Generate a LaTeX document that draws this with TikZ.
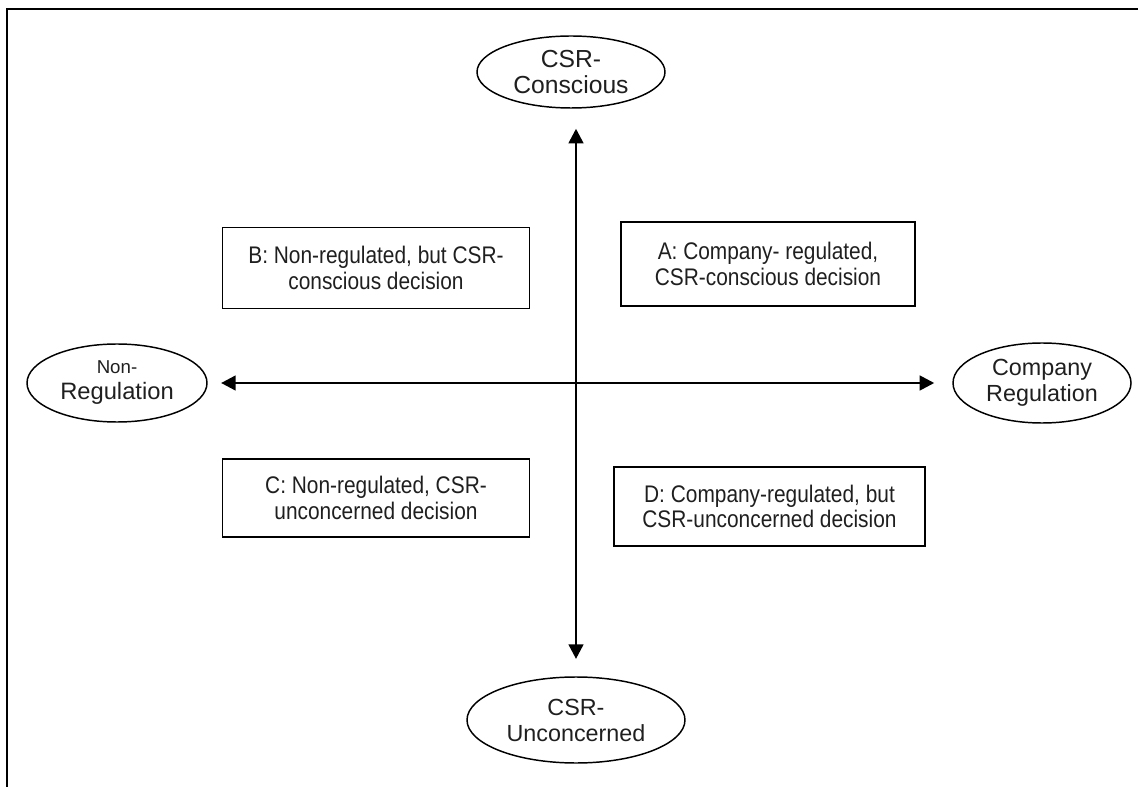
\documentclass[tikz,border=0pt]{standalone}
\usepackage{fontspec}
\setmainfont{Liberation Sans}
\newfontfamily\boxfont[FakeStretch=0.87]{Liberation Sans}
\usetikzlibrary{shapes.geometric,arrows.meta}
\begin{document}
\begin{tikzpicture}[x=0.75pt,y=-0.75pt,
  oval/.style={ellipse,draw,line width=1.1pt,inner sep=0pt,align=center,font=\fontsize{17.5}{19.5}\selectfont,text=black!88},
  quad/.style={rectangle,draw,line width=1.2pt,inner sep=0pt,align=center,font=\boxfont\fontsize{18}{19}\selectfont,text=black!88},
  axis/.style={line width=2pt,{Triangle[length=11pt,width=11pt]}-{Triangle[length=11pt,width=11pt]}}]
\useasboundingbox (0,0) rectangle (1138,787);
\draw[line width=1.6pt] (7,787) -- (7,9) -- (1138,9);
\coordinate (c) at (576,383);
\node[oval,minimum width=141pt,minimum height=54pt,font=\fontsize{18.5}{20}\selectfont] (top) at (571,72) {CSR-\\Conscious};
\node[oval,minimum width=163.5pt,minimum height=64.5pt] (bot) at (576,720) {CSR-\\Unconcerned};
\node[oval,minimum width=135pt,minimum height=58.5pt,font=\fontsize{17.8}{19.5}\selectfont] (left) at (117,383) {{\fontsize{14}{17}\selectfont Non-}\\Regulation};
\node[oval,minimum width=133.5pt,minimum height=60pt] (right) at (1042,383) {Company\\Regulation};
\draw[axis,shorten <=15pt,shorten >=13pt] (top.south -| c) -- (bot.north -| c);
\draw[axis,shorten <=10pt,shorten >=13.5pt] (left.east) -- (right.west);
\node[quad,minimum width=230pt,minimum height=61pt] (B) at (376,268) {B: Non-regulated, but CSR-\\conscious decision};
\node[quad,minimum width=220.5pt,minimum height=63pt] (A) at (768,264) {A: Company- regulated,\\CSR-conscious decision};
\node[quad,minimum width=230pt,minimum height=58.5pt] (C) at (376,498) {C: Non-regulated, CSR-\\unconcerned decision};
\node[quad,minimum width=233pt,minimum height=59pt] (D) at (769.5,506.5) {D: Company-regulated, but\\CSR-unconcerned decision};
\end{tikzpicture}
\end{document}
